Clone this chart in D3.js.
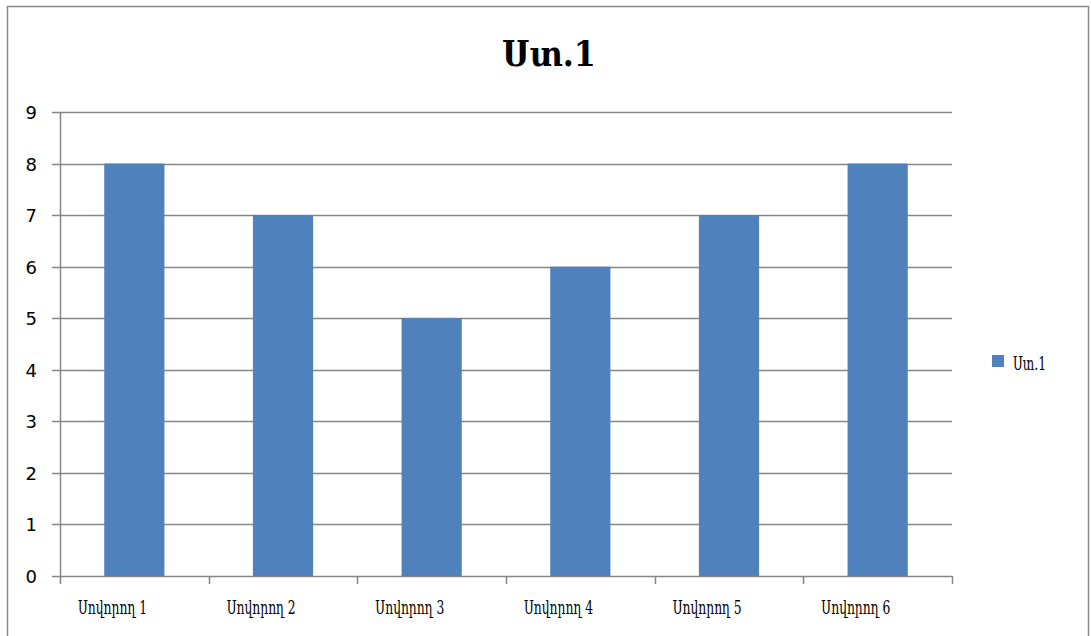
<!DOCTYPE html>
<html lang="hy">
<head>
<meta charset="UTF-8">
<title>Ստ.1</title>
<script src="https://d3js.org/d3.v7.min.js"></script>
<style>
    body { margin: 0; background: #fff; }
    .ylab text { font-family: "DejaVu Sans", sans-serif; font-size: 18px; fill: #000; }
    .xlab { font-family: "DejaVu Serif Condensed", "DejaVu Serif", serif; font-size: 19px; fill: #000; }
</style>
</head>
<body>
<div id="chart"></div>
<script>
    const categories = ["Սովորող 1", "Սովորող 2", "Սովորող 3", "Սովորող 4", "Սովորող 5", "Սովորող 6"];
    const values = [8, 7, 5, 6, 7, 8];
    const seriesName = "Ստ.1";
    const yTicks = [0, 1, 2, 3, 4, 5, 6, 7, 8, 9];

    const width = 1091, height = 636;
    const plot = {left: 60, right: 952, top: 112, bottom: 576};

    const svg = d3.select("#chart").append("svg")
        .attr("width", width)
        .attr("height", height);

    // chart frame
    svg.append("rect")
        .attr("x", 7.5).attr("y", 6.5)
        .attr("width", 1081).attr("height", 640)
        .attr("fill", "#fff")
        .attr("stroke", "#888")
        .attr("stroke-width", 1.5);

    const x = d3.scaleBand()
        .domain(categories)
        .range([plot.left, plot.right]);

    const y = d3.scaleLinear()
        .domain([0, 9])
        .range([plot.bottom, plot.top]);

    // gridlines
    svg.append("g")
        .selectAll("line")
        .data(yTicks)
        .enter().append("line")
        .attr("x1", plot.left - 8)
        .attr("x2", plot.right)
        .attr("y1", d => Math.round(y(d)) + 0.5)
        .attr("y2", d => Math.round(y(d)) + 0.5)
        .attr("stroke", "#868686")
        .attr("stroke-width", 1.5);

    // y labels
    svg.append("g").attr("class", "ylab")
        .selectAll("text")
        .data(yTicks)
        .enter().append("text")
        .attr("x", 37)
        .attr("y", d => y(d) + 7)
        .attr("text-anchor", "end")
        .text(d => d);

    // y axis line
    svg.append("line")
        .attr("x1", plot.left + 0.5).attr("x2", plot.left + 0.5)
        .attr("y1", plot.top).attr("y2", plot.bottom)
        .attr("stroke", "#868686").attr("stroke-width", 1.5);

    // x ticks
    const xEdges = categories.map(c => x(c)).concat([plot.right]);
    svg.append("g")
        .selectAll("line")
        .data(xEdges)
        .enter().append("line")
        .attr("x1", d => Math.round(d) + 0.5)
        .attr("x2", d => Math.round(d) + 0.5)
        .attr("y1", plot.bottom)
        .attr("y2", plot.bottom + 8)
        .attr("stroke", "#868686").attr("stroke-width", 1.5);

    // bars
    const barW = x.bandwidth() * 0.405;
    svg.append("g")
        .selectAll("rect")
        .data(values)
        .enter().append("rect")
        .attr("x", (d, i) => x(categories[i]) + x.bandwidth() / 2 - barW / 2)
        .attr("y", d => y(d))
        .attr("width", barW)
        .attr("height", d => plot.bottom - y(d))
        .attr("fill", "#4f81bd");

    // x labels (narrow serif, squeezed to match)
    svg.append("g")
        .selectAll("text")
        .data(categories)
        .enter().append("text")
        .attr("class", "xlab")
        .attr("x", d => x(d) + 18)
        .attr("y", 614)
        .attr("textLength", 69)
        .attr("lengthAdjust", "spacingAndGlyphs")
        .text(d => d);

    // title
    svg.append("text")
        .attr("x", 502)
        .attr("y", 66)
        .attr("font-family", "'DejaVu Serif', serif")
        .attr("font-weight", "bold")
        .attr("font-size", 36)
        .attr("textLength", 94)
        .attr("lengthAdjust", "spacingAndGlyphs")
        .text(seriesName);

    // legend
    svg.append("rect")
        .attr("x", 992).attr("y", 355)
        .attr("width", 12).attr("height", 12)
        .attr("fill", "#4f81bd");
    svg.append("text")
        .attr("class", "xlab")
        .attr("x", 1013)
        .attr("y", 370)
        .attr("font-size", 21)
        .attr("textLength", 33)
        .attr("lengthAdjust", "spacingAndGlyphs")
        .text(seriesName);
</script>
</body>
</html>
